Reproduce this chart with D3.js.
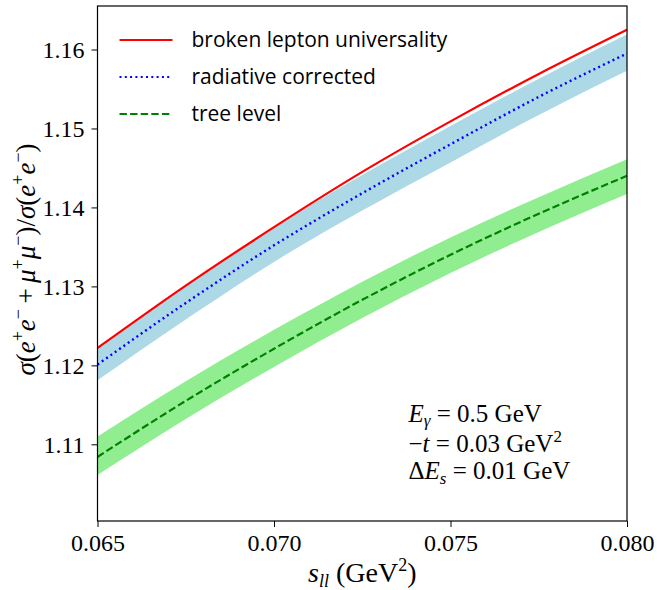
<!DOCTYPE html>
<html>
<head>
<meta charset="utf-8">
<script src="https://cdn.jsdelivr.net/npm/d3@7"></script>
<style>
  body { margin: 0; background: #fff; }
  .legend-text { font-family: "Open Sans", "DejaVu Sans", sans-serif; font-size: 21px; fill: #000; }
  .math { font-family: "Liberation Serif", serif; fill: #000; }
</style>
</head>
<body>
<svg width="657" height="590"></svg>
<script>
// s_ll values (GeV^2)
const sll = [0.065, 0.0675, 0.070, 0.0725, 0.075, 0.0775, 0.080];

// cross section ratios
const broken = [1.1222, 1.1301, 1.1375, 1.1445, 1.1509, 1.1569, 1.1625];
const radiative = [1.1201, 1.1279, 1.1352, 1.1418, 1.1480, 1.1540, 1.1595];
const radLow = [1.1181, 1.1258, 1.1331, 1.1396, 1.1457, 1.1517, 1.1573];
const radHigh = [1.1222, 1.1300, 1.1374, 1.1441, 1.1503, 1.1563, 1.1619];
const tree = [1.1084, 1.1155, 1.1221, 1.1283, 1.1340, 1.1392, 1.1440];
const treeLow = [1.1061, 1.1132, 1.1198, 1.1260, 1.1317, 1.1369, 1.1417];
const treeHigh = [1.1110, 1.1180, 1.1245, 1.1306, 1.1362, 1.1413, 1.1461];

const xTicks = [0.065, 0.070, 0.075, 0.080];
const yTicks = [1.11, 1.12, 1.13, 1.14, 1.15, 1.16];

const margin = {top: 6, right: 30, bottom: 69, left: 97.5},
    width = 627 - margin.left,
    height = 521 - margin.top;

const svg = d3.select("svg")
  .append("g")
    .attr("transform", `translate(${margin.left},${margin.top})`);

const x = d3.scaleLinear().domain([0.065, 0.080]).range([0, width]);
const y = d3.scaleLinear().domain([1.10029, 1.16551]).range([height, 0]);

const rows = sll.map((s, i) => ({
  s, broken: broken[i], radiative: radiative[i], radLow: radLow[i], radHigh: radHigh[i],
  tree: tree[i], treeLow: treeLow[i], treeHigh: treeHigh[i]
}));

// bands
const band = (lo, hi) => d3.area()
  .x(d => x(d.s)).y0(d => y(d[lo])).y1(d => y(d[hi]))
  .curve(d3.curveMonotoneX);

svg.append("path").datum(rows)
  .attr("d", band("radLow", "radHigh"))
  .attr("fill", "lightblue");
svg.append("path").datum(rows)
  .attr("d", band("treeLow", "treeHigh"))
  .attr("fill", "lightgreen");

// lines
const line = key => d3.line().x(d => x(d.s)).y(d => y(d[key])).curve(d3.curveMonotoneX);

svg.append("path").datum(rows)
  .attr("d", line("broken"))
  .attr("fill", "none").attr("stroke", "red").attr("stroke-width", 2.2);
svg.append("path").datum(rows)
  .attr("d", line("radiative"))
  .attr("fill", "none").attr("stroke", "blue").attr("stroke-width", 2.4)
  .attr("stroke-dasharray", "2,3.3");
svg.append("path").datum(rows)
  .attr("d", line("tree"))
  .attr("fill", "none").attr("stroke", "green").attr("stroke-width", 2.2)
  .attr("stroke-dasharray", "7.4,3.2");

// axes
const xAxis = svg.append("g")
  .attr("transform", `translate(0,${height})`)
  .call(d3.axisBottom(x).tickValues(xTicks).tickFormat(d3.format(".3f")).tickSizeInner(6).tickSizeOuter(0).tickPadding(7));
const yAxis = svg.append("g")
  .call(d3.axisLeft(y).tickValues(yTicks).tickFormat(d3.format(".2f")).tickSizeInner(6).tickSizeOuter(0).tickPadding(7));
[xAxis, yAxis].forEach(a => a
  .attr("font-family", "Liberation Serif")
  .attr("font-size", 24));
svg.selectAll(".domain").remove();
svg.selectAll(".tick line").attr("stroke", "#000").attr("stroke-width", 1);
svg.selectAll(".tick text").attr("fill", "#000");

// frame
svg.append("rect")
  .attr("width", width).attr("height", height)
  .attr("fill", "none").attr("stroke", "#000").attr("stroke-width", 1.2);

// legend
const legend = [
  {label: "broken lepton universality", color: "red", dash: null},
  {label: "radiative corrected", color: "blue", dash: "2,3.3"},
  {label: "tree level", color: "green", dash: "7.4,3.2"}
];
const lg = svg.append("g").attr("transform", "translate(22,34)");
legend.forEach((d, i) => {
  const g = lg.append("g").attr("transform", `translate(0,${i * 37})`);
  g.append("line").attr("x1", 0).attr("x2", 53)
    .attr("stroke", d.color).attr("stroke-width", 2.2)
    .attr("stroke-dasharray", d.dash);
  g.append("text").attr("class", "legend-text")
    .attr("x", 72).attr("y", 7).text(d.label);
});

// annotation
const sub = 17;
const ann = svg.append("g").attr("transform", "translate(311,0)").style("font-size", "25px");
const a1 = ann.append("text").attr("class", "math").attr("y", 416);
a1.append("tspan").attr("font-style", "italic").text("E");
a1.append("tspan").attr("font-style", "italic").attr("font-size", sub).attr("dy", 4).text("γ");
a1.append("tspan").attr("dy", -4).text(" = 0.5 GeV");
const a2 = ann.append("text").attr("class", "math").attr("y", 446);
a2.append("tspan").text("−");
a2.append("tspan").attr("font-style", "italic").text("t");
a2.append("tspan").text(" = 0.03 GeV");
a2.append("tspan").attr("font-size", sub).attr("dy", -10).text("2");
const a3 = ann.append("text").attr("class", "math").attr("y", 473);
a3.append("tspan").text("Δ");
a3.append("tspan").attr("font-style", "italic").text("E");
a3.append("tspan").attr("font-style", "italic").attr("font-size", sub).attr("dy", 5).text("s");
a3.append("tspan").attr("dy", -5).text(" = 0.01 GeV");

// x label
const xl = d3.select("svg").append("text").attr("class", "math").style("font-size", "28px")
  .attr("x", margin.left + width / 2).attr("y", 582).attr("text-anchor", "middle");
xl.append("tspan").attr("font-style", "italic").text("s");
xl.append("tspan").attr("font-style", "italic").attr("font-size", 18).attr("dy", 5).text("ll");
xl.append("tspan").attr("dy", -5).text(" (GeV");
xl.append("tspan").attr("font-size", 18).attr("dy", -11).text("2");
xl.append("tspan").attr("dy", 11).text(")");

// y label
const yl = d3.select("svg").append("text").attr("class", "math").style("font-size", "27px")
  .attr("transform", `translate(35,${margin.top + height / 2 - 4}) rotate(-90)`)
  .attr("text-anchor", "middle");
const parts = [
  ["σ", "i"], ["(", "n"], ["e", "i"], ["+", "sup"], ["e", "i"], ["−", "sup"], ["\u2009+\u2009", "n"],
  ["μ", "i"], ["+", "sup"], ["μ", "i"], ["−", "sup"], [")/", "n"],
  ["σ", "i"], ["(", "n"], ["e", "i"], ["+", "sup"], ["e", "i"], ["−", "sup"], [")", "n"]
];
let raised = false;
parts.forEach(([t, kind]) => {
  const ts = yl.append("tspan").text(t);
  if (kind === "sup") {
    ts.attr("font-size", 18).attr("dy", raised ? 0 : -11);
    raised = true;
  } else {
    if (raised) ts.attr("dy", 11);
    raised = false;
    if (kind === "i") ts.attr("font-style", "italic");
  }
});
</script>
</body>
</html>
